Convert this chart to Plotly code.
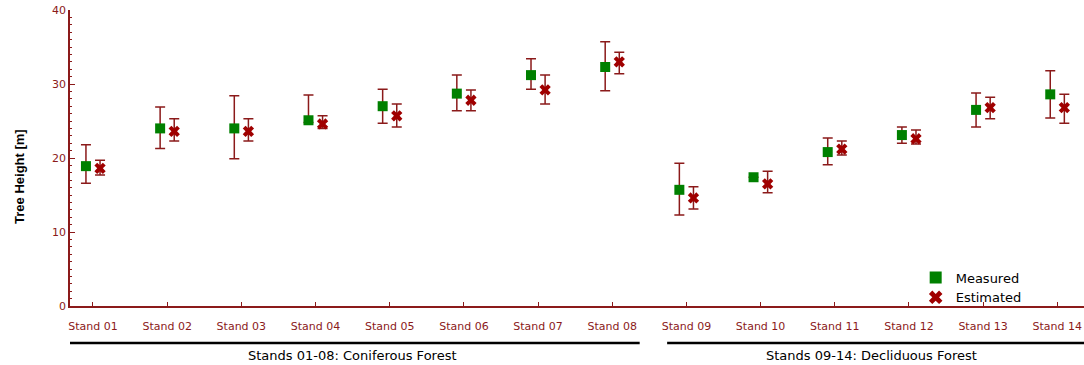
import plotly.graph_objects as go

stands = ["Stand 01", "Stand 02", "Stand 03", "Stand 04", "Stand 05", "Stand 06", "Stand 07",
          "Stand 08", "Stand 09", "Stand 10", "Stand 11", "Stand 12", "Stand 13", "Stand 14"]

measured = [18.9, 24.0, 24.0, 25.1, 27.0, 28.7, 31.2, 32.3, 15.7, 17.4, 20.8, 23.1, 26.5, 28.6]
measured_hi = [21.8, 26.9, 28.4, 28.5, 29.3, 31.2, 33.4, 35.7, 19.3, 17.4, 22.7, 24.2, 28.8, 31.8]
measured_lo = [16.6, 21.3, 19.9, 24.8, 24.7, 26.4, 29.3, 29.1, 12.3, 17.4, 19.1, 22.0, 24.2, 25.4]

estimated = [18.6, 23.6, 23.6, 24.6, 25.7, 27.8, 29.2, 33.0, 14.6, 16.5, 21.2, 22.6, 26.8, 26.8]
estimated_hi = [19.7, 25.3, 25.3, 25.7, 27.3, 29.2, 31.2, 34.3, 16.1, 18.2, 22.3, 23.8, 28.2, 28.6]
estimated_lo = [17.7, 22.3, 22.3, 24.0, 24.2, 26.4, 27.3, 31.4, 13.1, 15.3, 20.4, 21.9, 25.3, 24.7]

groups = ["Stands 01-08: Coniferous Forest", "Stands 09-14: Decliduous Forest"]
y_title = "Tree Height [m]"

DARK_RED = "#8B1A1A"
X_RED = "#A00000"
GREEN = "#008000"
FONT = "DejaVu Sans"
OFF = 0.095

idx = list(range(len(stands)))

fig = go.Figure()
fig.add_trace(go.Scatter(
    x=[i - OFF for i in idx], y=measured, mode="markers", name="Measured",
    marker=dict(symbol="square", size=10, color=GREEN),
    error_y=dict(type="data", symmetric=False,
                 array=[h - v for h, v in zip(measured_hi, measured)],
                 arrayminus=[v - l for v, l in zip(measured, measured_lo)],
                 color=DARK_RED, thickness=1.5, width=5),
))
fig.add_trace(go.Scatter(
    x=[i + OFF for i in idx], y=estimated, mode="markers", name="Estimated",
    marker=dict(symbol="x", size=10, color=X_RED, line=dict(width=0)),
    error_y=dict(type="data", symmetric=False,
                 array=[h - v for h, v in zip(estimated_hi, estimated)],
                 arrayminus=[v - l for v, l in zip(estimated, estimated_lo)],
                 color=DARK_RED, thickness=1.5, width=5),
))

# group brackets
fig.add_shape(type="line", xref="x", yref="paper", x0=-0.31, x1=7.37, y0=-0.125, y1=-0.125,
              line=dict(color="black", width=2.5))
fig.add_shape(type="line", xref="x", yref="paper", x0=7.74, x1=13.5, y0=-0.125, y1=-0.125,
              line=dict(color="black", width=2.5))
fig.add_annotation(x=3.5, y=-0.166, xref="x", yref="paper", text=groups[0], showarrow=False,
                   font=dict(family=FONT, size=13, color="black"), yanchor="middle")
fig.add_annotation(x=10.5, y=-0.166, xref="x", yref="paper", text=groups[1], showarrow=False,
                   font=dict(family=FONT, size=13, color="black"), yanchor="middle")
# y-axis title
fig.add_annotation(x=0, y=0.436, xref="paper", yref="paper", xshift=-50, text=y_title,
                   textangle=-90, showarrow=False, xanchor="center", yanchor="middle",
                   font=dict(family="Liberation Sans", size=13, color="black", weight="bold"))

fig.update_layout(
    width=1084, height=365,
    margin=dict(l=70, r=0, t=10, b=59),
    plot_bgcolor="white", paper_bgcolor="white",
    font=dict(family=FONT, size=11, color=DARK_RED),
    showlegend=True,
    legend=dict(x=0.834, y=0.147, xanchor="left", yanchor="top", bgcolor="rgba(0,0,0,0)",
                font=dict(family=FONT, size=13, color="black"), itemsizing="constant", tracegroupgap=0),
    xaxis=dict(range=[-0.31, 13.36], tickvals=idx, ticktext=stands, showgrid=False, zeroline=False,
               showline=True, linecolor=DARK_RED, linewidth=1.5, ticks="inside", ticklen=4,
               tickcolor=DARK_RED, tickfont=dict(family=FONT, size=11, color=DARK_RED),
               ticklabelstandoff=9),
    yaxis=dict(range=[0, 40], tickvals=[0, 10, 20, 30, 40], showgrid=False, zeroline=False,
               showline=True, linecolor=DARK_RED, linewidth=1.5, ticks="inside", ticklen=5,
               tickcolor=DARK_RED, tickfont=dict(family=FONT, size=11, color=DARK_RED),
               minor=dict(dtick=1, ticks="inside", ticklen=2, tickcolor=DARK_RED)),
)

fig.write_html("out.html", config={"displayModeBar": False},
               post_script="document.body.style.margin='0';document.body.style.overflow='hidden';")
